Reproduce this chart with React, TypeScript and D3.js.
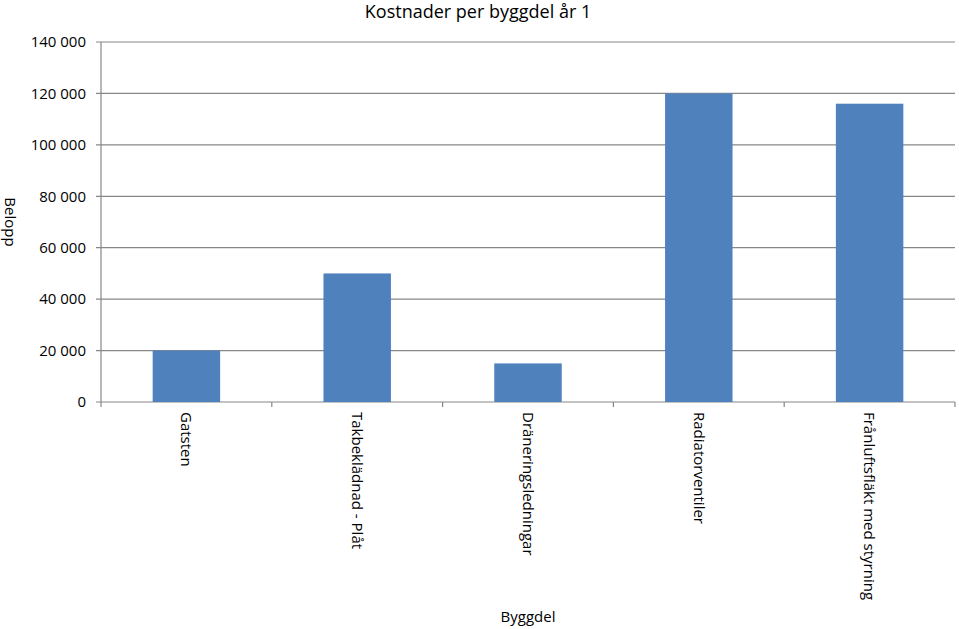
import React from "react";
import * as d3 from "d3";

const categories = ["Gatsten", "Takbeklädnad - Plåt", "Dräneringsledningar", "Radiatorventiler", "Frånluftsfläkt med styrning"];
const values = [20000, 50000, 15000, 120000, 116000];
const yTicks = [0, 20000, 40000, 60000, 80000, 100000, 120000, 140000];
const title = "Kostnader per byggdel år 1";
const xTitle = "Byggdel";
const yTitle = "Belopp";

const W = 959, H = 629;
const M = { left: 101, right: 955, top: 42, bottom: 402 };
const FONT = "'Open Sans', 'DejaVu Sans', sans-serif";

export default function App() {
  const x = d3.scaleBand<string>().domain(categories).range([M.left, M.right]).paddingInner(0.605).paddingOuter(0.3025);
  const xb = d3.scaleBand<string>().domain(categories).range([M.left, M.right]);
  const y = d3.scaleLinear().domain([0, 140000]).range([M.bottom, M.top]);
  const fmt = (v: number) => d3.format(",")(v).replace(/,/g, " ");
  const grid = "#878787";
  return (
    <svg width={W} height={H} style={{ position: "absolute", left: 0, top: 0, background: "#fff" }} fontFamily={FONT}>
      <text x={478} y={18} textAnchor="middle" fontSize={18} fill="#000">{title}</text>
      {yTicks.map((t) => (
        <g key={t}>
          <line x1={M.left - 5} x2={M.right} y1={y(t)} y2={y(t)} stroke={grid} strokeWidth={1.2} />
          <text x={86} y={y(t)} dy="0.35em" textAnchor="end" fontSize={15} fill="#000">{fmt(t)}</text>
        </g>
      ))}
      <line x1={M.left} x2={M.left} y1={M.top} y2={M.bottom} stroke={grid} strokeWidth={1.2} />
      {categories.map((c, i) => (
        <rect key={c} x={x(c)} y={y(values[i])} width={x.bandwidth()} height={M.bottom - y(values[i])} fill="#4F81BD" />
      ))}
      {categories.map((c) => (
        <line key={"t" + c} x1={(xb(c) as number) + xb.bandwidth()} x2={(xb(c) as number) + xb.bandwidth()} y1={M.bottom} y2={M.bottom + 5} stroke={grid} strokeWidth={1.2} />
      ))}
      <line x1={M.left} x2={M.left} y1={M.bottom} y2={M.bottom + 5} stroke={grid} strokeWidth={1.2} />
      {categories.map((c) => {
        const cx = (xb(c) as number) + xb.bandwidth() / 2;
        return (
          <text key={"l" + c} transform={`translate(${cx},${412}) rotate(90)`} dy="0.35em" fontSize={15} fill="#000">{c}</text>
        );
      })}
      <text x={528} y={622} textAnchor="middle" fontSize={15} fill="#000">{xTitle}</text>
      <text transform={`translate(10,222) rotate(90)`} textAnchor="middle" dy="0.35em" fontSize={15} fill="#000">{yTitle}</text>
    </svg>
  );
}
